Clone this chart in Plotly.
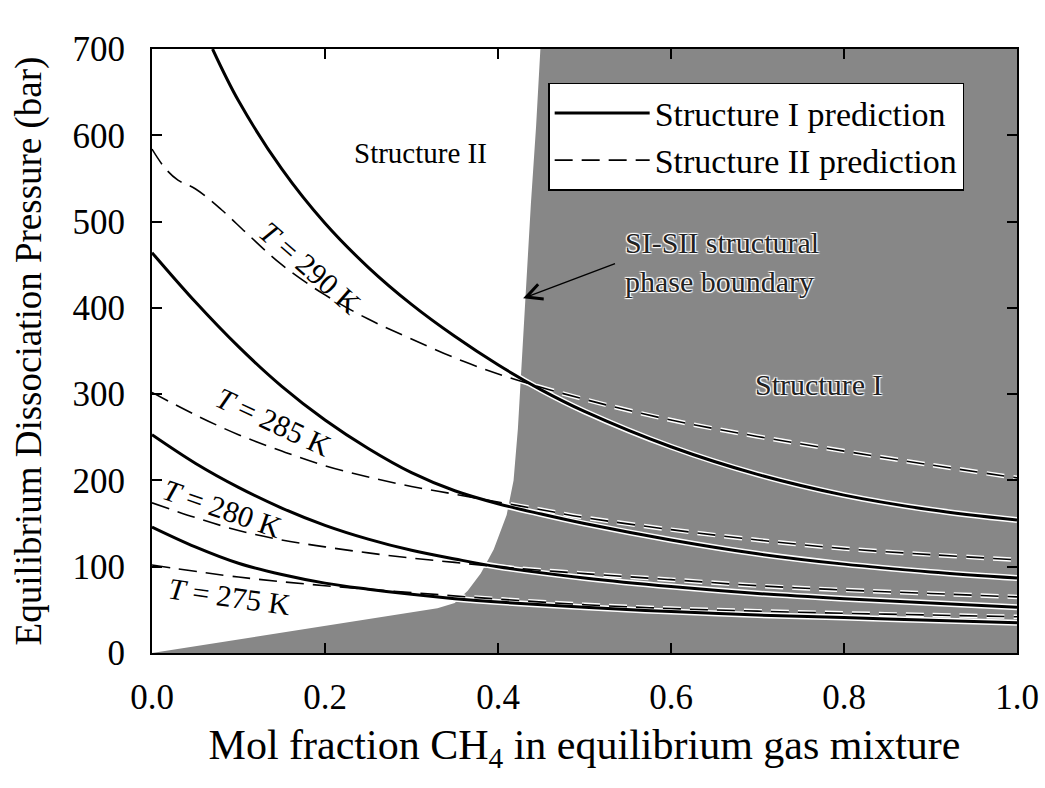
import plotly.graph_objects as go

# ---------------- data ----------------
# Structure I predictions (solid)
si_290_x = [0.07, 0.10, 0.15, 0.20, 0.25, 0.30, 0.35, 0.40, 0.45, 0.50, 0.60, 0.70, 0.80, 0.90, 1.0]
si_290_y = [700, 640, 561, 498, 447, 404, 367, 334, 305, 280, 239, 207, 183, 166, 154]
si_285_x = [0.0, 0.05, 0.10, 0.15, 0.20, 0.25, 0.30, 0.35, 0.40, 0.45, 0.50, 0.60, 0.70, 0.80, 0.90, 1.0]
si_285_y = [464, 407, 355, 309, 270, 237, 209, 188, 173, 161, 150, 131, 115, 103, 94, 87]
si_280_x = [0.0, 0.05, 0.10, 0.15, 0.20, 0.25, 0.30, 0.35, 0.40, 0.50, 0.60, 0.70, 0.80, 0.90, 1.0]
si_280_y = [253, 220, 192, 168, 148, 132, 119, 109, 100, 87, 77, 69, 63, 58, 53]
si_275_x = [0.0, 0.05, 0.10, 0.15, 0.20, 0.25, 0.30, 0.35, 0.40, 0.50, 0.60, 0.70, 0.80, 0.90, 1.0]
si_275_y = [146, 123, 104, 91, 81, 74, 68, 63, 59, 53, 48, 44, 41, 38, 35]

# Structure II predictions (dashed)
sii_290_x = [0.0, 0.015, 0.03, 0.05, 0.08, 0.11, 0.15, 0.20, 0.25, 0.30, 0.36, 0.42, 0.50, 0.60, 0.70, 0.80, 0.90, 1.0]
sii_290_y = [584, 562, 548, 538, 514, 486, 450, 415, 387, 364, 338, 317, 294, 270, 251, 234, 218, 203]
sii_285_x = [0.0, 0.05, 0.10, 0.15, 0.20, 0.25, 0.30, 0.35, 0.40, 0.45, 0.50, 0.60, 0.70, 0.80, 0.90, 1.0]
sii_285_y = [302, 276, 253, 234, 217, 204, 193, 184, 175, 166, 157, 143, 131, 121, 114, 108]
sii_280_x = [0.0, 0.05, 0.10, 0.15, 0.20, 0.25, 0.30, 0.35, 0.40, 0.50, 0.60, 0.70, 0.80, 0.90, 1.0]
sii_280_y = [174, 157, 142, 131, 123, 116, 110, 105, 100, 92, 85, 78, 73, 69, 65]
sii_275_x = [0.0, 0.10, 0.20, 0.30, 0.40, 0.50, 0.60, 0.70, 0.80, 0.90, 1.0]
sii_275_y = [102, 88, 78, 70, 62.5, 56, 51.5, 48.5, 46, 44, 42]

# SI-SII structural phase boundary (left edge of the Structure I region)
bnd_x = [0.0, 0.33, 0.35, 0.365, 0.38, 0.395, 0.41, 0.418, 0.423, 0.427, 0.431, 0.438, 0.444, 0.449]
bnd_y = [0, 52, 58, 72, 92, 120, 160, 200, 260, 330, 410, 520, 610, 700]

x_ticks = [0.0, 0.2, 0.4, 0.6, 0.8, 1.0]
x_tick_text = ["0.0", "0.2", "0.4", "0.6", "0.8", "1.0"]
y_ticks = [0, 100, 200, 300, 400, 500, 600, 700]

temp_labels = ["<i>T</i> = 290 K", "<i>T</i> = 285 K", "<i>T</i> = 280 K", "<i>T</i> = 275 K"]
temp_label_x = [0.183, 0.14, 0.082, 0.09]
temp_label_y = [447, 268, 168, 65]
temp_label_angle = [41, 25, 19, 8]

FONT = "Liberation Serif, Times New Roman, serif"
GRAY = "#878787"
DASH = "18px,9px"

fig = go.Figure()

# Structure I region (gray)
reg_x = bnd_x + [1.0, 1.0, 0.0]
reg_y = bnd_y + [700, 0, 0]
fig.add_trace(go.Scatter(x=reg_x, y=reg_y, mode="lines", fill="toself",
                         fillcolor=GRAY, line=dict(width=0, color=GRAY),
                         showlegend=False, hoverinfo="skip"))

solid = [(si_290_x, si_290_y), (si_285_x, si_285_y), (si_280_x, si_280_y), (si_275_x, si_275_y)]
dashed = [(sii_290_x, sii_290_y), (sii_285_x, sii_285_y), (sii_280_x, sii_280_y), (sii_275_x, sii_275_y)]

# white halos (visible on the gray region)
for xs, ys in solid:
    fig.add_trace(go.Scatter(x=xs, y=ys, mode="lines", line=dict(color="white", width=6, shape="spline", smoothing=1.0),
                             showlegend=False, hoverinfo="skip"))
for xs, ys in dashed:
    fig.add_trace(go.Scatter(x=xs, y=ys, mode="lines", line=dict(color="white", width=4.5, dash=DASH, shape="spline", smoothing=1.0),
                             showlegend=False, hoverinfo="skip"))

for i, (xs, ys) in enumerate(solid):
    fig.add_trace(go.Scatter(x=xs, y=ys, mode="lines", name="Structure I prediction",
                             legendgroup="si", showlegend=(i == 0),
                             line=dict(color="black", width=3, shape="spline", smoothing=1.0)))
for i, (xs, ys) in enumerate(dashed):
    fig.add_trace(go.Scatter(x=xs, y=ys, mode="lines", name="Structure II prediction",
                             legendgroup="sii", showlegend=(i == 0),
                             line=dict(color="black", width=1.6, dash=DASH, shape="spline", smoothing=1.0)))

# temperature labels
for t, lx, ly, ang in zip(temp_labels, temp_label_x, temp_label_y, temp_label_angle):
    fig.add_annotation(x=lx, y=ly, xref="x", yref="y", text=t, showarrow=False,
                       textangle=ang, font=dict(family=FONT, size=30, color="black"))

emboss = "1px 1px 1px #ffffff, -1px -1px 1px #ffffff, 1px -1px 1px #ffffff, -1px 1px 1px #ffffff"

fig.add_annotation(x=0.31, y=580, xref="x", yref="y", text="Structure II", showarrow=False,
                   font=dict(family=FONT, size=29, color="black"))
fig.add_annotation(x=0.77, y=311, xref="x", yref="y", text="Structure I", showarrow=False,
                   font=dict(family=FONT, size=30, color="#222222", shadow=emboss))
fig.add_annotation(x=0.545, y=453, xref="x", yref="y", xanchor="left", align="left",
                   text="SI-SII structural<br>phase boundary", showarrow=False,
                   font=dict(family=FONT, size=30, color="#222222", shadow=emboss))
# arrow to the boundary
fig.add_annotation(x=0.429, y=411, xref="x", yref="y", ax=0.537, ay=452, axref="x", ayref="y",
                   text="", showarrow=True, arrowhead=5, arrowsize=2.2, arrowwidth=1.4,
                   arrowcolor="black")

axis_common = dict(showline=True, linecolor="black", linewidth=2, mirror="allticks",
                   ticks="inside", ticklen=10, tickwidth=1.5, tickcolor="black",
                   showgrid=False, zeroline=False,
                   tickfont=dict(family=FONT, size=35, color="black"))

fig.update_xaxes(range=[0, 1], tickvals=x_ticks, ticktext=x_tick_text,
                 title=dict(text="Mol fraction CH<sub>4</sub> in equilibrium gas mixture",
                            font=dict(family=FONT, size=42, color="black"), standoff=14),
                 ticklabelstandoff=12, **axis_common)
fig.update_yaxes(range=[0, 700], tickvals=y_ticks,
                 title=dict(text="Equilibrium Dissociation Pressure (bar)",
                            font=dict(family=FONT, size=37, color="black"), standoff=20),
                 ticklabelstandoff=18, **axis_common)

fig.update_layout(
    width=1045, height=788,
    margin=dict(l=152, r=28, t=49, b=135, autoexpand=False),
    paper_bgcolor="white", plot_bgcolor="white",
    font=dict(family=FONT, color="black"),
    legend=dict(x=0.458, y=0.944, xanchor="left", yanchor="top",
                bgcolor="white", bordercolor="black", borderwidth=1.5,
                font=dict(family=FONT, size=34, color="black"),
                itemwidth=95, tracegroupgap=0),
)

fig.write_html("out.html")
